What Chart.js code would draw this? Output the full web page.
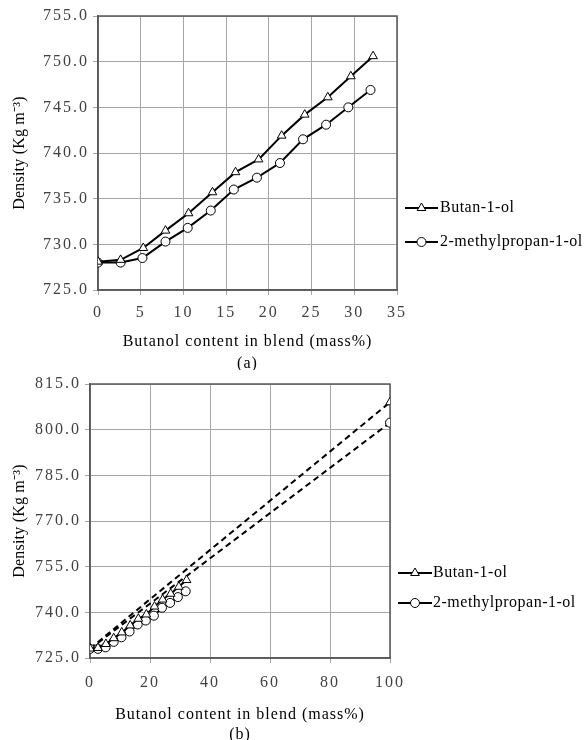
<!DOCTYPE html>
<html>
<head>
<meta charset="utf-8">
<script src="https://cdn.jsdelivr.net/npm/chart.js@4.4.1/dist/chart.umd.min.js"></script>
<style>
  html, body { margin: 0; padding: 0; background: #fff; overflow: hidden; }
  canvas { display: block; }
</style>
</head>
<body>
<canvas id="chartA" width="584" height="370"></canvas>
<canvas id="chartB" width="584" height="370"></canvas>
<script>
// dados
const butanolX = [0, 2.65, 5.3, 7.9, 10.6, 13.4, 16.1, 18.8, 21.5, 24.2, 26.9, 29.6, 32.2];
const butanolY = [728.1, 728.3, 729.6, 731.5, 733.4, 735.7, 737.9, 739.3, 741.9, 744.2, 746.1, 748.4, 750.6];
const methylX = [0, 2.65, 5.2, 7.9, 10.5, 13.2, 15.9, 18.6, 21.3, 24.0, 26.7, 29.3, 31.9];
const methylY = [728.0, 728.0, 728.5, 730.3, 731.8, 733.7, 736.0, 737.3, 738.9, 741.5, 743.1, 745.0, 746.9];
const pureX = 100;
const butanolPureY = 809.0;
const methylPureY = 802.3;

const seriesNames = ['Butan-1-ol', '2-methylpropan-1-ol'];
const xTitle = 'Butanol content in blend (mass%)';
const yTitle = 'Density (Kg m\u207B\u00B3)';

const FONT = 'Liberation Serif, Times New Roman, serif';

function pts(xs, ys) {
    return xs.map((x, i) => ({ x: x, y: ys[i] }));
}

// ================== PLUGINS ==================
function drawMarker(ctx, style, x, y, r) {
    ctx.beginPath();
    if (style === 'triangle') {
        let rad = 0;
        ctx.moveTo(x + Math.sin(rad) * r, y - Math.cos(rad) * r);
        rad += 2 * Math.PI / 3;
        ctx.lineTo(x + Math.sin(rad) * r, y - Math.cos(rad) * r);
        rad += 2 * Math.PI / 3;
        ctx.lineTo(x + Math.sin(rad) * r, y - Math.cos(rad) * r);
        ctx.closePath();
    } else {
        ctx.arc(x, y, r, 0, Math.PI * 2);
    }
    ctx.fillStyle = '#fff';
    ctx.fill();
    ctx.lineWidth = 1;
    ctx.strokeStyle = '#000';
    ctx.stroke();
}

const framePlugin = {
    id: 'frame',
    beforeDatasetsDraw(chart) {
        const a = chart.chartArea;
        const ctx = chart.ctx;
        ctx.save();
        ctx.strokeStyle = '#595959';
        ctx.lineWidth = 1.5;
        ctx.strokeRect(a.left, a.top, a.right - a.left, a.bottom - a.top);
        ctx.restore();
    }
};

const sideLegend = {
    id: 'sideLegend',
    afterDraw(chart, args, opts) {
        const ctx = chart.ctx;
        ctx.save();
        opts.items.forEach(item => {
            ctx.beginPath();
            ctx.moveTo(opts.x1, item.y);
            ctx.lineTo(opts.x2, item.y);
            ctx.lineWidth = 2;
            ctx.strokeStyle = '#000';
            ctx.stroke();
            drawMarker(ctx, item.style, (opts.x1 + opts.x2) / 2, item.y, item.r);
            ctx.fillStyle = '#000';
            ctx.font = '16px ' + FONT;
            ctx.letterSpacing = '0.5px';
            ctx.textBaseline = 'middle';
            ctx.textAlign = 'left';
            ctx.fillText(item.text, opts.textX, item.y);
        });
        ctx.restore();
    }
};

// espaçamento das letras nos rótulos e títulos dos eixos
function spaced(s, labelGap, titleGap) {
    if (s._spaced) return;
    s._spaced = true;
    const labels = s.drawLabels.bind(s);
    const title = s.drawTitle.bind(s);
    s.drawLabels = function (area) {
        this.ctx.save();
        this.ctx.letterSpacing = labelGap;
        labels(area);
        this.ctx.restore();
    };
    s.drawTitle = function (area) {
        this.ctx.save();
        this.ctx.letterSpacing = titleGap;
        title(area);
        this.ctx.restore();
    };
}

// ================== GRÁFICOS ==================
function axisOptions(cfg) {
    return {
        x: {
            type: 'linear',
            min: cfg.xMin, max: cfg.xMax,
            afterFit: s => { s.height = cfg.xHeight; spaced(s, '2px', '1px'); },
            afterBuildTicks: s => { s.ticks = cfg.xTicks.map(v => ({ value: v })); },
            grid: { color: '#a6a6a6', lineWidth: 1, tickLength: 5, drawTicks: true },
            border: { color: '#595959', width: 1.5 },
            ticks: { color: '#404040', font: { family: FONT, size: 16 }, padding: cfg.xPad, maxRotation: 0 },
            title: {
                display: true,
                text: [xTitle, cfg.caption],
                color: '#000',
                font: { family: FONT, size: 16, lineHeight: cfg.titleLH },
                padding: { top: 0, bottom: cfg.titlePB }
            }
        },
        y: {
            type: 'linear',
            min: cfg.yMin, max: cfg.yMax,
            afterFit: s => { s.width = cfg.yWidth; spaced(s, '2px', '0.2px'); },
            afterBuildTicks: s => { s.ticks = cfg.yTicks.map(v => ({ value: v })); },
            grid: { color: '#a6a6a6', lineWidth: 1, tickLength: 5, drawTicks: true },
            border: { color: '#595959', width: 1.5 },
            ticks: {
                color: '#404040', font: { family: FONT, size: 16 }, padding: 4,
                callback: v => Number(v).toFixed(1)
            },
            title: {
                display: true,
                text: yTitle,
                color: '#000',
                font: { family: FONT, size: 16, lineHeight: 1.25 },
                padding: { top: 10, bottom: 0 }
            }
        }
    };
}

function solidSet(name, data, style, r) {
    return {
        label: name,
        data: data,
        showLine: true,
        borderColor: '#000',
        borderWidth: 2,
        pointStyle: style,
        pointRadius: r,
        pointBorderWidth: 1,
        pointBorderColor: '#000',
        pointBackgroundColor: '#fff',
        order: 1
    };
}

function dashedSet(name, data) {
    return {
        label: name,
        data: data,
        showLine: true,
        borderColor: '#000',
        borderWidth: 2,
        borderDash: [6, 4],
        pointRadius: 0,
        order: 2
    };
}

// (a)
new Chart(document.getElementById('chartA'), {
    type: 'scatter',
    data: {
        datasets: [
            solidSet(seriesNames[0], pts(butanolX, butanolY), 'triangle', 5),
            solidSet(seriesNames[1], pts(methylX, methylY), 'circle', 4.5)
        ]
    },
    options: {
        responsive: false,
        animation: false,
        layout: { padding: { left: 0, right: 187, top: 16, bottom: 0 } },
        scales: axisOptions({
            xMin: 0, xMax: 35, xTicks: [0, 5, 10, 15, 20, 25, 30, 35],
            yMin: 725, yMax: 755, yTicks: [725, 730, 735, 740, 745, 750, 755],
            xHeight: 80, yWidth: 98, caption: '(a)', titleLH: 1.375, titlePB: -5, xPad: 8
        }),
        plugins: {
            legend: { display: false },
            tooltip: { enabled: false },
            sideLegend: {
                x1: 405, x2: 438, textX: 440,
                items: [
                    { text: seriesNames[0], style: 'triangle', r: 5, y: 208 },
                    { text: seriesNames[1], style: 'circle', r: 4.5, y: 242 }
                ]
            }
        }
    },
    plugins: [framePlugin, sideLegend]
});

// (b)
const pureB = solidSet(seriesNames[0], [{ x: pureX, y: butanolPureY }], 'triangle', 5);
pureB.showLine = false;
const pureM = solidSet(seriesNames[1], [{ x: pureX, y: methylPureY }], 'circle', 4.5);
pureM.showLine = false;

new Chart(document.getElementById('chartB'), {
    type: 'scatter',
    data: {
        datasets: [
            solidSet(seriesNames[0], pts(butanolX, butanolY), 'triangle', 5),
            solidSet(seriesNames[1], pts(methylX, methylY), 'circle', 4.5),
            pureB,
            pureM,
            dashedSet(seriesNames[0], [{ x: butanolX[0], y: butanolY[0] }, { x: pureX, y: butanolPureY }]),
            dashedSet(seriesNames[1], [{ x: methylX[0], y: methylY[0] }, { x: pureX, y: methylPureY }])
        ]
    },
    options: {
        responsive: false,
        animation: false,
        layout: { padding: { left: 0, right: 194, top: 14, bottom: 0 } },
        scales: axisOptions({
            xMin: 0, xMax: 100, xTicks: [0, 20, 40, 60, 80, 100],
            yMin: 725, yMax: 815, yTicks: [725, 740, 755, 770, 785, 800, 815],
            xHeight: 82, yWidth: 90, caption: '(b)', titleLH: 1.25, titlePB: -5, xPad: 10
        }),
        plugins: {
            legend: { display: false },
            tooltip: { enabled: false },
            sideLegend: {
                x1: 398, x2: 432, textX: 433,
                items: [
                    { text: seriesNames[0], style: 'triangle', r: 5, y: 203 },
                    { text: seriesNames[1], style: 'circle', r: 4.5, y: 233 }
                ]
            }
        }
    },
    plugins: [framePlugin, sideLegend]
});
</script>
</body>
</html>
